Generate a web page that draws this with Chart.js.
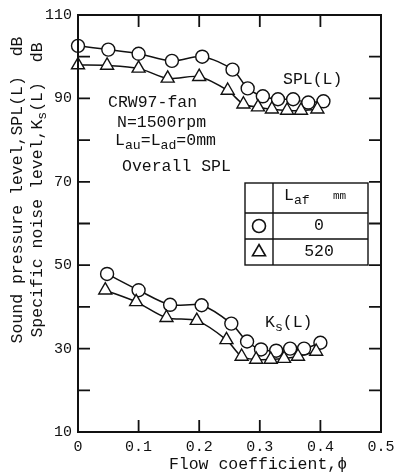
<!DOCTYPE html>
<html>
<head>
<meta charset="utf-8">
<script src="https://cdn.jsdelivr.net/npm/chart.js@4"></script>
<style>
  html, body { margin: 0; padding: 0; background: #fff; }
  #wrap { width: 401px; height: 475px; position: relative; }
</style>
</head>
<body>
<div id="wrap"><canvas id="myChart" width="401" height="475"></canvas></div>
<script>
// data
const splPhi0 = [0.0, 0.05, 0.1, 0.155, 0.205, 0.255, 0.28, 0.305, 0.33, 0.355, 0.38, 0.405];
const spl0 = [102.6, 101.7, 100.7, 99.0, 100.0, 96.9, 92.4, 90.5, 89.8, 89.8, 89.0, 89.3];
const splPhi520 = [0.0, 0.048, 0.1, 0.148, 0.2, 0.247, 0.273, 0.297, 0.32, 0.345, 0.368, 0.395];
const spl520 = [98.0, 97.9, 97.2, 94.8, 95.2, 91.9, 88.6, 87.9, 87.4, 87.1, 87.1, 87.4];
const ksPhi0 = [0.048, 0.1, 0.152, 0.204, 0.253, 0.279, 0.302, 0.327, 0.35, 0.373, 0.4];
const ks0 = [47.9, 44.0, 40.5, 40.4, 36.0, 31.7, 29.8, 29.5, 30.0, 30.0, 31.4];
const ksPhi520 = [0.045, 0.096, 0.146, 0.196, 0.245, 0.27, 0.294, 0.318, 0.34, 0.363, 0.393];
const ks520 = [44.0, 41.2, 37.4, 36.7, 32.1, 28.1, 27.4, 27.4, 27.6, 28.1, 29.3];

const xTicks = [0, 0.1, 0.2, 0.3, 0.4, 0.5];
const yLabelTicks = [10, 30, 50, 70, 90, 110];

const FONT = '"Liberation Mono", "DejaVu Sans Mono", monospace';
const INK = '#111';
const TXT = 16.5;

function pts(xs, ys) {
    return xs.map((x, i) => ({ x: x, y: ys[i] }));
}

function serie(xs, ys, estilo) {
    return {
        data: pts(xs, ys),
        borderColor: INK,
        borderWidth: 1.5,
        backgroundColor: '#fff',
        pointStyle: estilo,
        pointRadius: estilo == 'circle' ? 6.5 : 7.5,
        pointBorderWidth: 1.4,
        pointBorderColor: INK,
        pointBackgroundColor: '#fff',
        tension: 0.3,
        fill: false,
        clip: false
    };
}

// text with subscripts: parts = [[text, isSub], ...]
function textoSub(ctx, parts, x, y, size, align) {
    let total = 0;
    parts.forEach(p => {
        ctx.font = (p[1] ? size * 0.8 : size) + 'px ' + FONT;
        total += ctx.measureText(p[0]).width;
    });
    let cx = align == 'center' ? x - total / 2 : x;
    ctx.textAlign = 'left';
    ctx.textBaseline = 'middle';
    parts.forEach(p => {
        ctx.font = (p[1] ? size * 0.8 : size) + 'px ' + FONT;
        ctx.fillText(p[0], cx, p[1] ? y + size * 0.3 : y);
        cx += ctx.measureText(p[0]).width;
    });
}

const extras = {
    id: 'extras',
    afterDraw(chart) {
        const ctx = chart.ctx;
        const a = chart.chartArea;
        const sx = chart.scales.x;
        const sy = chart.scales.y;
        ctx.save();
        ctx.strokeStyle = INK;
        ctx.fillStyle = INK;

        // frame
        ctx.lineWidth = 2;
        ctx.strokeRect(a.left, a.top, a.right - a.left, a.bottom - a.top);

        // inward ticks
        ctx.lineWidth = 1.8;
        const len = 12;
        for (let v = 20; v < 110; v += 10) {
            const py = sy.getPixelForValue(v);
            ctx.beginPath();
            ctx.moveTo(a.left, py); ctx.lineTo(a.left + len, py);
            ctx.moveTo(a.right, py); ctx.lineTo(a.right - len, py);
            ctx.stroke();
        }
        for (let i = 1; i < xTicks.length - 1; i++) {
            const px = sx.getPixelForValue(xTicks[i]);
            ctx.beginPath();
            ctx.moveTo(px, a.bottom); ctx.lineTo(px, a.bottom - len);
            ctx.moveTo(px, a.top); ctx.lineTo(px, a.top + len);
            ctx.stroke();
        }

        // y title (two lines, rotated)
        ctx.save();
        ctx.translate(18, 190);
        ctx.rotate(-Math.PI / 2);
        textoSub(ctx, [['Sound pressure level,SPL(L)  dB', false]], 0, 0, TXT, 'center');
        ctx.restore();
        ctx.save();
        ctx.translate(38, 190);
        ctx.rotate(-Math.PI / 2);
        textoSub(ctx, [['Specific noise level,K', false], ['s', true], ['(L)  dB', false]], 0, 0, TXT, 'center');
        ctx.restore();

        // x title
        textoSub(ctx, [['Flow coefficient,\u03d5', false]], 258, 465, TXT, 'center');

        // annotations
        textoSub(ctx, [['CRW97-fan', false]], 108, 103, TXT, 'left');
        textoSub(ctx, [['N=1500rpm', false]], 117, 123, TXT, 'left');
        textoSub(ctx, [['L', false], ['au', true], ['=L', false], ['ad', true], ['=0mm', false]], 115, 141, TXT, 'left');
        textoSub(ctx, [['Overall SPL', false]], 122, 167, TXT, 'left');
        textoSub(ctx, [['SPL(L)', false]], 283, 80, TXT, 'left');
        textoSub(ctx, [['K', false], ['s', true], ['(L)', false]], 265, 323, TXT, 'left');

        // legend table
        const L = 245, R = 368, D = 273, T = 183, H1 = 213, H2 = 239, B = 265;
        ctx.lineWidth = 1.4;
        ctx.strokeRect(L, T, R - L, B - T);
        ctx.beginPath();
        ctx.moveTo(D, T); ctx.lineTo(D, B);
        ctx.moveTo(L, H1); ctx.lineTo(R, H1);
        ctx.moveTo(L, H2); ctx.lineTo(R, H2);
        ctx.stroke();
        textoSub(ctx, [['L', false], ['af', true]], 284, 196, TXT, 'left');
        ctx.font = '11px ' + FONT;
        ctx.textBaseline = 'middle';
        ctx.fillText('mm', 333, 196);
        textoSub(ctx, [['0', false]], 319, 226, TXT, 'center');
        textoSub(ctx, [['520', false]], 319, 252, TXT, 'center');
        ctx.lineWidth = 1.6;
        ctx.fillStyle = '#fff';
        Chart.helpers.drawPoint(ctx, { pointStyle: 'circle', radius: 6.5, rotation: 0, borderWidth: 1.6 }, 259, 226);
        Chart.helpers.drawPoint(ctx, { pointStyle: 'triangle', radius: 7.5, rotation: 0, borderWidth: 1.6 }, 259, 252);

        ctx.restore();
    }
};

const config = {
    type: 'line',
    data: {
        datasets: [
            serie(splPhi520, spl520, 'triangle'),
            serie(splPhi0, spl0, 'circle'),
            serie(ksPhi520, ks520, 'triangle'),
            serie(ksPhi0, ks0, 'circle')
        ]
    },
    options: {
        responsive: false,
        animation: false,
        layout: { padding: { left: 0, right: 20, top: 12, bottom: 0 } },
        plugins: { legend: { display: false }, tooltip: { enabled: false } },
        scales: {
            x: {
                type: 'linear',
                min: 0,
                max: 0.5,
                grid: { display: false, drawTicks: false },
                border: { display: false },
                afterBuildTicks: (s) => { s.ticks = xTicks.map(v => ({ value: v })); },
                afterFit: (s) => { s.height = 43; },
                ticks: {
                    color: INK,
                    padding: 6,
                    maxRotation: 0,
                    font: { family: FONT, size: 15 },
                    callback: (v) => v == 0 ? '0' : String(v)
                }
            },
            y: {
                min: 10,
                max: 110,
                grid: { display: false, drawTicks: false },
                border: { display: false },
                afterBuildTicks: (s) => { s.ticks = yLabelTicks.map(v => ({ value: v })); },
                afterFit: (s) => { s.width = 78; },
                ticks: {
                    color: INK,
                    padding: 6,
                    font: { family: FONT, size: 15 }
                }
            }
        }
    },
    plugins: [extras]
};

new Chart(document.querySelector('#myChart'), config);
</script>
</body>
</html>
